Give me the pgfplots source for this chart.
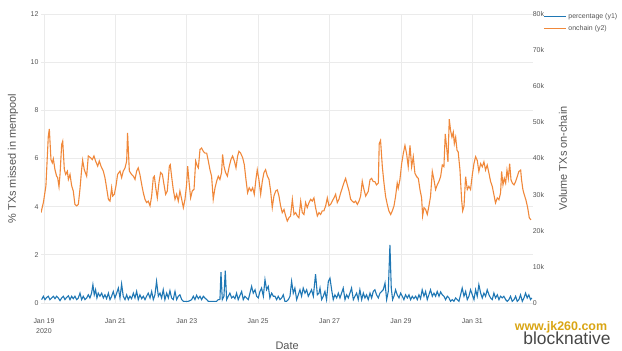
\documentclass[border=0pt]{standalone}
\usepackage{pgfplots}
\pgfplotsset{compat=1.18}
\usepackage{fontspec}
\setmainfont{Liberation Sans}
\definecolor{plotblue}{HTML}{1F77B4}
\definecolor{plotorange}{HTML}{F0883A}
\definecolor{tickgray}{HTML}{555555}
\definecolor{gridgray}{HTML}{EBEBEB}
\definecolor{wmgold}{HTML}{D9A514}
\pgfplotstableread{
h pct
-1.6 0.14
-0.4 0.28
0.7 0.14
1.8 0.23
2.9 0.28
4.0 0.14
5.2 0.21
6.3 0.28
7.4 0.18
8.5 0.28
9.6 0.21
10.8 0.10
11.9 0.21
13.0 0.28
14.1 0.14
15.2 0.23
16.4 0.30
17.5 0.14
18.6 0.28
19.7 0.18
20.8 0.28
22.0 0.14
23.1 0.21
24.2 0.41
25.3 0.14
26.4 0.28
27.6 0.14
28.7 0.21
29.8 0.34
30.9 0.21
32.0 0.41
32.9 0.76
33.8 0.34
34.7 0.55
35.6 0.21
36.5 0.41
37.6 0.28
38.8 0.41
39.9 0.21
41.0 0.34
42.1 0.18
43.3 0.41
44.4 0.14
45.5 0.28
46.6 0.48
47.7 0.21
48.9 0.41
50.0 0.62
51.1 0.21
52.2 0.79
53.3 0.28
54.5 0.14
55.6 0.34
56.7 0.14
57.8 0.28
58.9 0.18
60.1 0.41
61.2 0.21
62.3 0.48
63.4 0.14
64.5 0.34
65.7 0.18
66.8 0.28
67.9 0.14
69.0 0.28
70.1 0.41
71.3 0.21
72.4 0.48
73.5 0.14
74.6 0.34
75.7 0.90
76.9 0.28
78.0 0.41
79.1 0.21
80.2 0.55
81.3 0.14
82.5 0.41
83.6 0.21
84.7 0.51
85.8 0.21
86.9 0.14
88.1 0.48
89.2 0.14
90.3 0.28
91.4 0.34
92.6 0.14
93.7 0.07
94.8 0.07
95.9 0.07
97.0 0.07
98.2 0.10
99.3 0.14
100.4 0.28
101.5 0.14
102.6 0.32
103.8 0.18
104.9 0.28
106.0 0.14
107.1 0.28
108.2 0.21
109.4 0.14
110.5 0.07
111.6 0.07
112.7 0.07
113.8 0.07
115.0 0.07
116.1 0.07
117.2 0.14
118.3 0.14
119.0 1.28
119.9 0.14
121.0 0.28
121.9 1.34
122.8 0.14
123.9 0.28
125.0 0.41
126.2 0.21
127.3 0.28
128.4 0.18
129.5 0.41
130.6 0.14
131.8 0.32
132.9 0.48
134.0 0.14
135.1 0.28
136.2 0.21
137.4 0.14
138.5 0.41
139.6 0.69
140.7 0.41
141.9 0.55
143.0 0.28
144.1 0.21
145.2 0.48
146.3 0.62
147.5 0.28
148.6 0.97
149.7 0.55
150.8 0.69
151.9 0.21
153.1 0.41
154.2 0.28
155.3 0.28
156.4 0.14
157.5 0.28
158.7 0.14
159.8 0.21
160.9 0.34
162.0 0.07
163.1 0.07
164.3 0.14
165.4 0.28
166.5 0.90
167.6 0.41
168.7 0.62
169.9 0.14
171.0 0.34
172.1 0.55
173.2 0.28
174.3 0.62
175.5 0.41
176.6 0.55
177.7 0.28
178.8 0.41
179.9 0.55
181.1 0.28
182.6 1.20
183.8 0.34
184.9 0.41
185.6 0.62
186.7 0.14
187.8 0.28
188.9 0.48
190.0 0.14
191.2 0.90
192.3 1.03
193.4 0.55
194.5 0.14
195.6 0.34
196.8 0.21
197.9 0.41
199.0 0.21
200.1 0.41
201.2 0.62
202.4 0.14
203.5 0.34
204.6 0.21
205.7 0.41
206.8 0.62
208.0 0.14
209.1 0.28
210.2 0.41
211.3 0.14
212.4 0.55
213.6 0.14
214.7 0.41
215.8 0.21
216.9 0.34
218.0 0.14
219.2 0.41
220.3 0.21
221.4 0.48
222.5 0.55
223.6 0.34
224.8 0.21
225.9 0.41
227.0 0.48
228.1 0.55
229.3 0.83
230.4 0.14
231.5 0.48
232.6 2.41
233.5 0.62
234.4 0.14
235.3 0.28
236.4 0.55
237.5 0.34
238.7 0.21
239.8 0.41
240.9 0.28
242.0 0.14
243.1 0.34
244.3 0.21
245.4 0.34
246.5 0.14
247.6 0.28
248.7 0.18
249.9 0.28
251.0 0.14
252.1 0.34
253.2 0.18
254.3 0.55
255.5 0.28
256.6 0.48
257.7 0.14
258.8 0.34
259.9 0.55
261.1 0.28
262.2 0.41
263.3 0.28
264.4 0.48
265.6 0.28
266.7 0.46
267.8 0.34
268.9 0.28
270.0 0.14
271.2 0.28
272.3 0.21
273.4 0.07
274.5 0.14
275.6 0.07
276.8 0.21
277.9 0.14
279.0 0.07
280.1 0.34
281.2 0.62
282.4 0.28
283.5 0.48
284.6 0.14
285.7 0.28
286.8 0.55
288.0 0.34
289.1 0.14
290.2 0.55
291.3 0.28
292.4 0.76
293.6 0.41
294.7 0.21
295.8 0.41
296.9 0.28
298.0 0.55
299.2 0.34
300.3 0.21
301.4 0.14
302.5 0.41
303.6 0.21
304.8 0.34
305.9 0.14
307.0 0.28
308.1 0.21
309.2 0.28
310.4 0.14
311.5 0.07
312.6 0.14
313.7 0.28
314.8 0.07
316.0 0.14
317.1 0.28
318.2 0.07
319.3 0.14
320.4 0.34
321.6 0.07
322.7 0.21
323.8 0.41
324.9 0.21
326.0 0.34
327.1 0.14
328.0 0.21
}\pcttable
\pgfplotstableread{
h k
-2.0 25.0
-0.4 27.8
1.3 32.4
2.9 46.1
3.6 48.2
4.7 39.7
5.6 38.8
6.3 39.9
7.4 36.9
8.5 35.1
9.2 34.7
10.1 32.2
10.8 35.6
11.9 43.9
12.6 44.8
13.7 36.9
14.6 35.6
15.7 36.5
16.4 34.2
17.5 35.6
18.6 32.5
19.7 31.0
20.8 27.3
22.0 26.9
23.1 27.3
24.2 31.5
25.3 36.9
26.0 39.5
27.1 36.9
28.7 35.1
29.8 40.7
31.4 40.2
32.5 39.7
33.6 40.7
34.7 39.3
36.1 37.9
37.2 39.3
38.3 37.9
39.9 36.5
41.0 34.7
42.1 31.9
43.3 28.7
44.4 28.2
45.5 31.9
46.2 29.6
47.3 30.1
48.4 32.4
49.5 35.6
51.1 36.5
52.2 34.7
53.3 36.5
54.5 37.4
55.6 39.3
56.2 47.1
57.4 36.5
58.9 35.6
60.1 35.1
61.2 34.2
62.3 36.5
63.4 37.4
64.5 35.6
65.7 32.8
66.8 30.5
67.9 28.7
69.0 27.8
70.1 28.2
71.3 26.9
72.4 29.6
73.5 34.7
74.2 35.1
75.3 31.5
76.2 29.1
77.3 33.3
78.4 36.1
79.6 35.6
80.7 32.8
81.8 30.1
82.9 31.0
84.3 37.9
84.9 38.3
85.8 35.1
86.9 31.5
88.1 28.7
89.2 30.1
90.3 28.2
91.4 31.0
92.6 28.7
93.7 26.4
94.8 28.7
95.9 32.8
96.6 37.9
97.7 32.8
98.6 29.1
99.7 31.0
100.9 31.5
102.0 39.3
103.1 37.9
103.8 37.4
104.9 42.5
106.0 42.9
107.1 42.0
108.2 41.5
109.4 41.5
110.5 39.3
111.6 36.9
112.7 35.1
113.8 28.7
115.0 31.9
116.1 33.7
117.2 35.1
118.3 34.2
119.4 36.1
120.1 41.1
121.0 37.9
122.1 36.1
123.3 35.1
124.6 37.9
125.7 39.7
126.8 40.7
128.0 39.3
129.1 37.4
130.2 40.7
131.1 42.0
132.2 41.5
133.6 40.2
134.7 38.3
135.8 34.2
136.9 30.5
138.0 31.9
139.2 31.0
140.3 31.9
141.4 30.1
142.5 34.2
143.4 36.9
144.5 34.2
145.7 30.1
146.8 33.7
147.9 36.1
149.0 36.9
150.2 35.1
151.3 34.2
152.4 31.0
153.5 26.4
154.6 29.6
155.8 31.0
156.9 31.3
158.0 29.6
159.1 26.9
160.2 25.0
161.4 25.9
162.5 24.1
163.6 22.7
164.7 23.6
165.8 24.1
167.0 28.7
168.1 24.5
169.2 25.0
170.3 24.1
171.4 23.6
172.6 28.2
173.7 25.0
174.8 24.5
175.9 27.8
177.0 26.4
178.2 27.8
179.3 28.7
180.4 28.2
181.5 29.1
182.6 26.4
183.8 24.1
184.9 25.0
186.0 24.5
187.1 25.5
188.2 25.5
189.4 26.9
190.5 29.1
191.6 26.9
192.7 27.3
193.8 28.2
195.0 29.1
196.1 30.1
197.2 27.8
198.3 28.7
199.5 30.5
200.6 31.9
201.7 33.3
202.8 34.5
203.9 32.8
205.1 31.0
206.2 28.7
207.3 28.2
208.4 27.8
209.5 28.2
210.7 27.3
211.8 28.2
212.9 29.6
214.0 33.7
215.1 31.5
216.3 29.6
218.0 30.9
219.2 34.1
220.3 34.5
221.4 33.6
222.5 33.6
223.6 32.7
224.8 33.2
225.4 44.1
226.3 45.0
227.5 37.7
228.6 33.2
229.7 29.5
230.8 27.3
231.9 25.5
233.1 24.5
234.2 25.5
235.3 26.8
236.4 29.5
237.5 33.2
238.2 31.8
239.3 34.1
240.5 38.6
241.6 41.4
242.7 43.6
243.8 41.4
244.9 37.7
246.1 43.6
247.2 37.7
248.3 40.5
249.4 35.9
250.5 35.0
251.7 34.5
252.8 31.4
253.9 29.1
254.6 24.1
255.5 26.4
256.6 25.9
257.7 24.5
258.8 26.8
259.9 29.5
261.1 36.4
262.2 34.1
263.3 31.4
264.4 32.7
265.5 33.6
266.7 35.0
267.8 38.2
268.9 37.7
269.8 46.8
270.7 43.2
271.6 39.1
272.5 50.9
273.4 47.7
274.3 45.9
275.2 47.3
275.9 44.1
276.8 45.9
277.7 42.3
278.5 41.8
279.7 36.8
280.8 28.6
281.5 25.5
282.4 26.8
283.5 35.0
284.6 31.4
285.7 32.3
286.8 31.4
288.0 35.5
289.1 38.6
290.2 40.5
291.3 39.5
292.4 36.4
293.6 38.6
294.7 37.7
295.8 39.1
296.9 36.8
298.0 38.2
299.2 35.9
300.3 33.6
301.4 32.3
302.5 30.0
303.6 27.7
304.8 29.1
305.9 28.6
307.0 30.5
307.7 36.4
308.6 32.7
309.5 34.5
310.4 33.2
311.3 36.8
312.2 34.5
313.1 38.6
314.0 34.1
314.9 33.2
316.0 32.7
317.1 33.6
318.2 35.0
319.3 36.4
320.5 36.8
321.1 34.1
322.0 31.4
322.9 30.0
324.0 28.6
325.2 26.4
326.3 23.6
327.4 23.0
}\chaintable
\begin{document}
\begin{tikzpicture}
\pgfplotsset{
  common/.style={
    scale only axis, width=492.3bp, height=289bp,
    at={(41bp,48bp)}, anchor=south west,
    xmin=-2, xmax=329,
    tick style={draw=none},
    ticklabel style={font=\fontsize{7}{10}\selectfont, text=tickgray},
    label style={font=\fontsize{11}{13}\selectfont, text=tickgray},
  }
}
\begin{axis}[common,
  ymin=0, ymax=12,
  axis line style={draw=none},
  xtick={0,48,96,144,192,240,288},
  xticklabels={{Jan 19\\2020},Jan 21,Jan 23,Jan 25,Jan 27,Jan 29,Jan 31},
  xticklabel style={align=center, anchor=north, yshift=-12bp},
  ytick={0,2,4,6,8,10,12},
  yticklabels={0,2,4,6,8,10,12},
  yticklabel style={anchor=east, xshift=1bp},
  grid=major, major grid style={draw=gridgray, line width=0.7bp},
  xlabel={Date},
  xlabel style={at={(axis description cs:0.5,-0.149)}, anchor=center},
  ylabel={\% TXs missed in mempool},
  ylabel style={at={(axis description cs:-0.057,0.5)}, anchor=center, rotate=0},
]
\addplot[plotblue, line width=1.1bp] table[x=h, y=pct] {\pcttable};
\end{axis}
\begin{axis}[common,
  ymin=0, ymax=80,
  axis x line=none,
  axis y line*=right,
  y axis line style={draw=none},
  ytick={0,10,20,30,40,50,60,70,80},
  yticklabels={0,10k,20k,30k,40k,50k,60k,70k,80k},
  yticklabel style={anchor=west, xshift=-4bp},
  ylabel={Volume TXs on-chain},
  ylabel style={at={(axis description cs:1.06,0.5)}, anchor=center},
  legend style={at={(axis description cs:1.0197,1.009)}, anchor=north west,
    draw=none, fill=none, font=\fontsize{7}{8}\selectfont, text=tickgray,
    row sep=1bp, inner sep=0pt, cells={anchor=west}},
  legend image code/.code={\draw[#1] (0bp,0bp) -- (22bp,0bp);},
]
\addlegendimage{draw=plotblue, line width=1.2bp}
\addlegendentry{percentage (y1)}
\addlegendimage{draw=plotorange, line width=1.2bp}
\addlegendentry{onchain (y2)}
\addplot[plotorange, line width=1.1bp, forget plot] table[x=h, y=k] {\chaintable};
\end{axis}
\node[anchor=center, text=black!72, font=\fontsize{17.5}{18}\selectfont] at (567bp,13bp) {blocknative};
\node[anchor=center, text=wmgold, font=\bfseries\fontsize{12.5}{13}\selectfont] at (561bp,24bp) {www.jk260.com};
\pgfresetboundingbox
\path[use as bounding box] (0,0) rectangle (622bp,351bp);
\end{tikzpicture}
\end{document}
